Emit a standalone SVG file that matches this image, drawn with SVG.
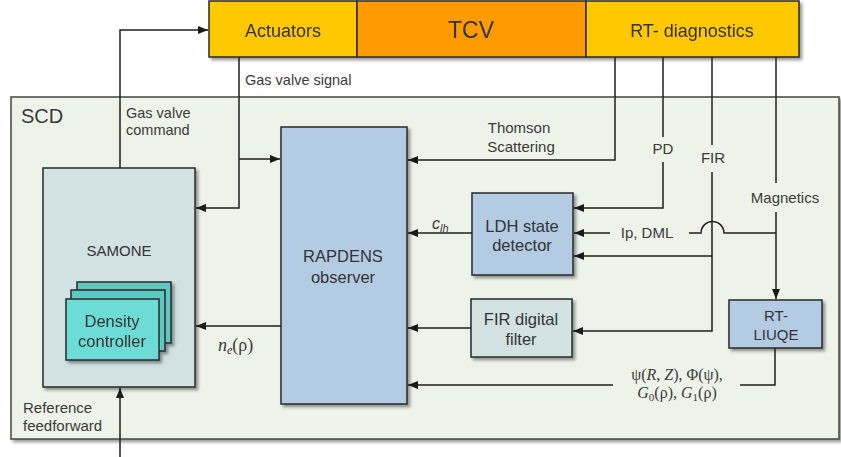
<svg xmlns="http://www.w3.org/2000/svg" width="841" height="457" viewBox="0 0 841 457">
<defs>
<filter id="sh" x="-10%" y="-10%" width="130%" height="130%">
<feDropShadow dx="2.5" dy="2.5" stdDeviation="1.8" flood-color="#000" flood-opacity="0.4"/>
</filter>
<marker id="ar" markerUnits="userSpaceOnUse" markerWidth="10" markerHeight="10" viewBox="0 0 10 10" refX="10" refY="5" orient="auto">
<path d="M0,1 L10,5 L0,9 Z" fill="#1a1a1a"/>
</marker>
<style>
.bx{stroke:#2a2a2a;stroke-width:1.5}
.t{font-family:"Liberation Sans",Arial,sans-serif;fill:#333;text-anchor:middle}
.lb{font-family:"Liberation Sans",Arial,sans-serif;fill:#3a3a3a;font-size:15px}
.m{font-family:"Liberation Serif","DejaVu Serif",serif;fill:#3a3a3a;font-size:18px}
.c{fill:none;stroke:#1f1f1f;stroke-width:1.5}
</style>
</defs>
<rect width="841" height="457" fill="#fff"/>

<g id="scd">
<rect x="11" y="97" width="828" height="342" fill="#eef3ea" stroke="#444" stroke-width="1.5" filter="url(#sh)"/>
<text x="21" y="123" class="lb" style="font-size:20px">SCD</text>
</g>

<g id="topbar" filter="url(#sh)">
<g id="actuators"><rect x="209" y="1" width="148" height="56" fill="#ffc800" class="bx"/>
<text x="283" y="37" class="t" font-size="18">Actuators</text></g>
<g id="tcv"><rect x="357" y="1" width="229" height="56" fill="#ff9a00" class="bx"/>
<text x="471" y="38" class="t" font-size="23">TCV</text></g>
<g id="rtdiag"><rect x="586" y="1" width="213" height="56" fill="#ffc800" class="bx"/>
<text x="692" y="37" class="t" font-size="18">RT- diagnostics</text></g>
</g>

<g id="samone">
<rect x="43" y="168" width="152" height="219" fill="#d2e2e3" class="bx" filter="url(#sh)"/>
<text x="119" y="256" class="t" font-size="15">SAMONE</text>
</g>

<g id="density" filter="url(#sh)">
<rect x="77" y="282" width="94" height="61" fill="#5ec8c2" class="bx"/>
<rect x="71" y="290" width="94" height="61" fill="#5ec8c2" class="bx"/>
<rect x="66" y="299" width="93" height="61" fill="#6ddcd6" class="bx"/>
<text x="112" y="327" class="t" font-size="16.5">Density</text>
<text x="112" y="347" class="t" font-size="16.5">controller</text>
</g>

<g id="rapdens">
<rect x="281" y="127" width="126" height="277" fill="#b3cbe3" class="bx" filter="url(#sh)"/>
<text x="343" y="262" class="t" font-size="16.5">RAPDENS</text>
<text x="343" y="283" class="t" font-size="16.5">observer</text>
</g>

<g id="ldh">
<rect x="472" y="193" width="101" height="82" fill="#b3cbe3" class="bx" filter="url(#sh)"/>
<text x="522" y="232" class="t" font-size="16.5">LDH state</text>
<text x="522" y="251" class="t" font-size="16.5">detector</text>
</g>

<g id="firfilter">
<rect x="471" y="299" width="101" height="58" fill="#d2e2e3" class="bx" filter="url(#sh)"/>
<text x="521" y="325" class="t" font-size="16.5">FIR digital</text>
<text x="521" y="345" class="t" font-size="16.5">filter</text>
</g>

<g id="rtliuqe">
<rect x="729" y="300" width="93" height="48" fill="#b3cbe3" class="bx" filter="url(#sh)"/>
<text x="776" y="321" class="t" font-size="15">RT-</text>
<text x="776" y="340" class="t" font-size="15">LIUQE</text>
</g>

<g id="connectors">
<path class="c" d="M120,168 V30 H208" marker-end="url(#ar)"/>
<path class="c" d="M239,57 V208 H196" marker-end="url(#ar)"/>
<path class="c" d="M239,159 H280" marker-end="url(#ar)"/>
<path class="c" d="M615,57 V160 H408" marker-end="url(#ar)"/>
<path class="c" d="M663,57 V137"/>
<path class="c" d="M663,162 V208 H574" marker-end="url(#ar)"/>
<path class="c" d="M712,57 V145"/>
<path class="c" d="M712,172 V331 H573" marker-end="url(#ar)"/>
<path class="c" d="M712,256 H574" marker-end="url(#ar)"/>
<path class="c" d="M776,57 V183"/>
<path class="c" d="M776,212 V299" marker-end="url(#ar)"/>
<path class="c" d="M776,233 H724 A11.5,11.5 0 0 0 701,233 H689"/>
<path class="c" d="M610,233 H574" marker-end="url(#ar)"/>
<path class="c" d="M472,233 H408" marker-end="url(#ar)"/>
<path class="c" d="M471,328 H408" marker-end="url(#ar)"/>
<path class="c" d="M775,348 V385 H740"/>
<path class="c" d="M613,385 H408" marker-end="url(#ar)"/>
<path class="c" d="M281,326 H196" marker-end="url(#ar)"/>
<path class="c" d="M120,457 V388" marker-end="url(#ar)"/>
</g>

<g id="labels">
<text x="245" y="85" class="lb" style="font-size:14.5px">Gas valve signal</text>
<text x="126" y="118" class="lb" style="font-size:14.5px">Gas valve</text>
<text x="126" y="135" class="lb" style="font-size:14.5px">command</text>
<text x="519" y="133" class="lb" text-anchor="middle">Thomson</text>
<text x="521" y="152" class="lb" text-anchor="middle">Scattering</text>
<text x="663" y="154" class="lb" text-anchor="middle">PD</text>
<text x="713" y="163" class="lb" text-anchor="middle">FIR</text>
<text x="785" y="203" class="lb" text-anchor="middle">Magnetics</text>
<text x="647" y="238" class="lb" text-anchor="middle">Ip, DML</text>
<text x="23" y="413" class="lb">Reference</text>
<text x="23" y="431" class="lb">feedforward</text>
<text x="432" y="229" class="lb" font-style="italic" style="font-size:16px">c<tspan font-size="11" dy="3">lh</tspan></text>
<text x="218" y="351" class="m"><tspan font-style="italic">n</tspan><tspan font-style="italic" font-size="12" dy="3">e</tspan><tspan dy="-3">(ρ)</tspan></text>
<text x="677" y="380" class="m" text-anchor="middle" style="font-size:16px">ψ(<tspan font-style="italic">R</tspan>, <tspan font-style="italic">Z</tspan>), Φ(ψ),</text>
<text x="677" y="398" class="m" text-anchor="middle" style="font-size:16px"><tspan font-style="italic">G</tspan><tspan font-size="11" dy="3">0</tspan><tspan dy="-3">(ρ), </tspan><tspan font-style="italic">G</tspan><tspan font-size="11" dy="3">1</tspan><tspan dy="-3">(ρ)</tspan></text>
</g>
</svg>
